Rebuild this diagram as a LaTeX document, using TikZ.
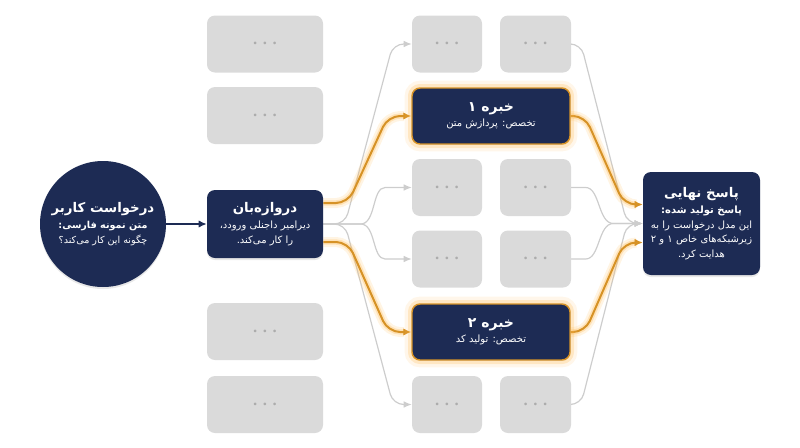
\documentclass[tikz,border=0pt]{standalone}
\usepackage{fontspec}
\usetikzlibrary{arrows.meta,calc,shadows}
\TeXXeTstate=1
\newfontfamily\fa[Script=Arabic]{DejaVu Sans}
\definecolor{navy}{RGB}{29,43,84}
\definecolor{org}{RGB}{214,146,38}
\definecolor{glowc}{RGB}{255,185,80}
\definecolor{gbox}{RGB}{218,218,218}
\definecolor{gdot}{RGB}{172,172,172}
\definecolor{glinec}{RGB}{205,205,205}
\newcommand\RL[1]{\beginR #1\endR}
\newcommand\tdots{\textbullet\hspace{1.2pt}\textbullet\hspace{1.2pt}\textbullet}
\pgfdeclarelayer{bg}
\pgfsetlayers{bg,main}
\begin{document}
\begin{tikzpicture}[x=0.75pt,y=-0.75pt,
  navybox/.style={rectangle, rounded corners=6pt, fill=navy, text=white, align=center,
     font=\fa\fontsize{7.5}{11}\selectfont, inner sep=2pt},
  shad/.style={drop shadow={opacity=0.18,shadow xshift=0pt,shadow yshift=-1.5pt}},
  graybox/.style={rectangle, rounded corners=6pt, fill=gbox, text=gdot, minimum height=42.75pt,
     font=\fontsize{7}{7}\selectfont, inner sep=0pt},
  leftbox/.style={graybox, minimum width=87pt},
  midA/.style={graybox, minimum width=52.5pt},
  midB/.style={graybox, minimum width=53.25pt},
  expert/.style={navybox, draw=org, line width=1.1pt, minimum width=118.5pt, minimum height=42pt,
     preaction={draw=glowc, line width=11pt, draw opacity=0.12},
     preaction={draw=glowc, line width=6pt, draw opacity=0.25}},
  gl/.style={draw=glinec, line width=0.9pt, rounded corners=8pt, -{Latex[length=6pt,width=5pt]}},
  ol/.style={draw=org, line width=1.5pt, rounded corners=9pt, -{Latex[length=6pt,width=5.5pt]},
     preaction={draw=glowc, line width=7.5pt, draw opacity=0.16},
     preaction={draw=glowc, line width=4pt, draw opacity=0.3}},
  nl/.style={draw=navy, line width=1.5pt, -{Latex[length=6pt,width=5.5pt]}}
]
\useasboundingbox (0,0) rectangle (800,447);

% user request
\node[circle, fill=navy, text=white, minimum size=94.5pt, align=center, inner sep=0pt,
      font=\fa\fontsize{7.2}{11}\selectfont, shad] (user) at (103,224)
  {{\fontsize{10}{14}\selectfont\bfseries\RL{درخواست کاربر}}\\[1pt]
   {\bfseries\RL{متن نمونه فارسی:}}\\
   \RL{چگونه این کار می^^^^200cکند؟}};

% gatekeeper
\node[navybox, minimum width=87pt, minimum height=51pt, shad] (gk) at (265,224)
  {{\fontsize{10}{14}\selectfont\bfseries\RL{دروازه^^^^200cبان}}\\[1pt]
   \RL{دیرامیر داجنلی ورودد،}\\
   \RL{را کار می^^^^200cکند.}};

% left gray column
\node[leftbox] (l1) at (265,44) {\tdots};
\node[leftbox] (l2) at (265,115.5) {\tdots};
\node[leftbox] (l3) at (265,331.5) {\tdots};
\node[leftbox] (l4) at (265,404.5) {\tdots};

% middle gray columns
\node[midA] (a1) at (447,44) {\tdots};
\node[midB] (b1) at (535.5,44) {\tdots};
\node[midA] (a2) at (447,187.5) {\tdots};
\node[midB] (b2) at (535.5,187.5) {\tdots};
\node[midA] (a3) at (447,259) {\tdots};
\node[midB] (b3) at (535.5,259) {\tdots};
\node[midA] (a4) at (447,404.5) {\tdots};
\node[midB] (b4) at (535.5,404.5) {\tdots};

% experts
\node[expert] (e1) at (491,116)
  {{\fontsize{10.5}{14}\selectfont\bfseries\RL{خبره ۱}}\\
   \RL{تخصص: پردازش متن}};
\node[expert] (e2) at (491,332)
  {{\fontsize{10.5}{14}\selectfont\bfseries\RL{خبره ۲}}\\
   \RL{تخصص: تولید کد}};

% final answer
\node[navybox, minimum width=87.75pt, minimum height=77.25pt, shad] (f) at (701.5,223.5)
  {{\fontsize{10}{14}\selectfont\bfseries\RL{پاسخ نهایی}}\\[1pt]
   {\bfseries\RL{پاسخ تولید شده:}}\\
   \RL{این مدل درخواست را به}\\
   \RL{زیرشبکه^^^^200cهای خاص ۱ و ۲}\\
   \RL{هدایت کرد.}};

\begin{pgfonlayer}{bg}
\draw[nl] (user) -- (gk);
% gray, left side
\draw[gl] (gk.east) -- (345,224) -- (393,44) -- (a1.west);
\draw[gl] (gk.east) -- (345,224) -- (393,404.5) -- (a4.west);
\draw[gl] (gk.east) -- (350,224) .. controls (376,224) and (372,187.5) .. ($(a2.west)+(-16,0)$) -- (a2.west);
\draw[gl] (gk.east) -- (350,224) .. controls (376,224) and (372,259) .. ($(a3.west)+(-16,0)$) -- (a3.west);
% gray, right side
\draw[gl] (b1.east) -- (581,44) -- (627,223.5) -- (f.west);
\draw[gl] (b4.east) -- (581,404.5) -- (627,223.5) -- (f.west);
\draw[gl] (b2.east) -- (575,187.5) .. controls (600,187.5) and (598,223.5) .. (624,223.5) -- (f.west);
\draw[gl] (b3.east) -- (575,259) .. controls (600,259) and (598,223.5) .. (624,223.5) -- (f.west);
% orange
\draw[ol] ($(gk.east)+(0,-21)$) -- (348,203) -- (388,116) -- (e1.west);
\draw[ol] ($(gk.east)+(0,18)$) -- (348,242) -- (388,332) -- (e2.west);
\draw[ol] (e1.east) -- (585,116) -- (624,204.5) -- ($(f.west)+(0,-19)$);
\draw[ol] (e2.east) -- (585,332) -- (624,242.5) -- ($(f.west)+(0,19)$);
\end{pgfonlayer}
\end{tikzpicture}
\end{document}
